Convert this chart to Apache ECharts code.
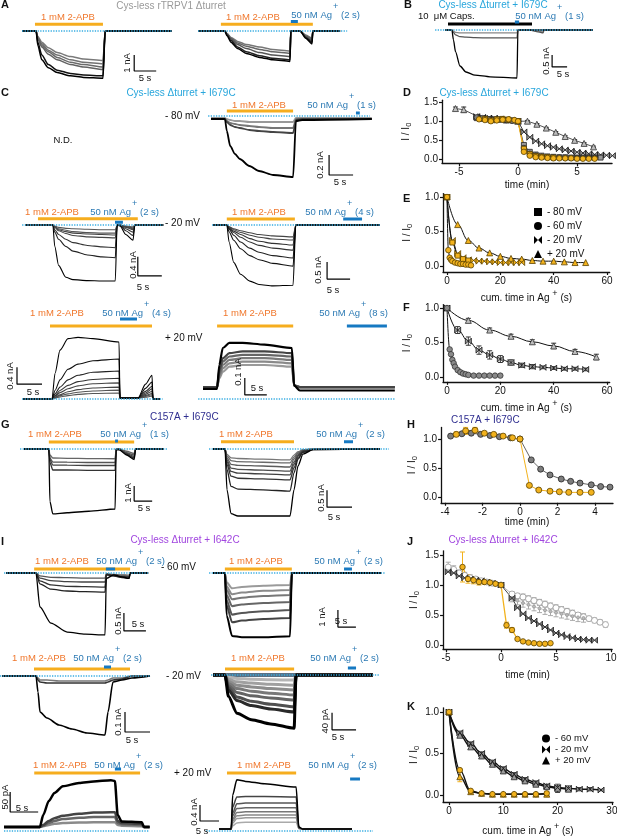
<!DOCTYPE html>
<html>
<head>
<meta charset="utf-8">
<script src="https://cdn.jsdelivr.net/npm/echarts@6/dist/echarts.min.js"></script>
<style>
  html, body { margin: 0; padding: 0; background: #fff; }
  #fig { width: 617px; height: 837px; }
</style>
</head>
<body>
<div id="fig"></div>
<script>
// ---------------- data: current traces (time in s, current in nA or pA) ----------------
var A1_t = [0, 3.2, 3.6, 4.5, 6, 8, 11, 14, 18.4, 18.9, 34];
var A1_i = [
  [0, 0, -0.35, -0.7, -1.05, -1.35, -1.6, -1.75, -1.85, 0, 0],
  [0, 0, -0.4, -0.8, -1.2, -1.5, -1.8, -1.95, -2.05, 0, 0],
  [0, 0, -0.45, -0.9, -1.3, -1.65, -1.95, -2.1, -2.25, 0, 0],
  [0, 0, -0.5, -1.0, -1.45, -1.8, -2.1, -2.25, -2.4, 0, 0],
  [0, 0, -0.7, -1.5, -2.1, -2.45, -2.65, -2.75, -2.8, 0, 0],
  [0, 0, -0.9, -1.8, -2.3, -2.6, -2.8, -2.9, -2.95, 0, 0]
];
var A2_t = [0, 6.1, 6.6, 7.5, 9, 11, 14, 17, 20.9, 21.1, 23.2, 24.5, 25.9, 26.1, 32.3];
var A2_i = [
  [0, 0, -0.15, -0.4, -0.65, -0.85, -1.0, -1.15, -1.25, 0, 0, -0.25, -0.45, 0, 0],
  [0, 0, -0.18, -0.45, -0.75, -0.95, -1.15, -1.3, -1.4, 0, 0, -0.3, -0.5, 0, 0],
  [0, 0, -0.2, -0.5, -0.85, -1.1, -1.35, -1.5, -1.6, 0, 0, -0.35, -0.6, 0, 0],
  [0, 0, -0.25, -0.6, -1.0, -1.3, -1.55, -1.7, -1.8, 0, 0, -0.4, -0.7, 0, 0],
  [0, 0, -0.3, -0.7, -1.1, -1.4, -1.65, -1.8, -1.9, 0, 0, -0.45, -0.8, 0, 0]
];
var B_t = [0, 2.3, 2.8, 3.5, 5, 7, 10, 15, 24, 24.3, 28.3, 31, 32.7, 33, 49.3];
var B_i = [
  [0, 0, -0.05, -0.1, -0.12, -0.12, -0.12, -0.12, -0.12, 0, 0, -0.05, -0.08, 0, 0],
  [0, 0, -0.1, -0.2, -0.28, -0.3, -0.32, -0.33, -0.33, 0, 0, -0.08, -0.12, 0, 0],
  [0, 0, -0.4, -0.9, -1.5, -1.75, -1.88, -1.95, -2.0, 0, 0, 0, 0, 0, 0]
];
var C1_t = [0, 2.9, 3.3, 4, 5, 6, 8, 10, 13, 17.1, 17.7, 19, 33.5];
var C1_i = [
  [-0.02, -0.02, -0.03, -0.04, -0.05, -0.05, -0.06, -0.06, -0.06, -0.06, -0.02, -0.02, -0.02],
  [-0.03, -0.03, -0.05, -0.07, -0.08, -0.09, -0.1, -0.11, -0.12, -0.12, -0.03, -0.03, -0.03],
  [-0.03, -0.03, -0.06, -0.09, -0.11, -0.12, -0.14, -0.15, -0.16, -0.17, -0.04, -0.03, -0.03],
  [-0.03, -0.03, -0.15, -0.3, -0.38, -0.43, -0.5, -0.55, -0.59, -0.61, -0.05, -0.04, -0.03]
];
var C2_t = [0, 5.8, 6.2, 7, 8.5, 10, 13, 16, 18.8, 19.2, 19.8, 21, 22.5, 22.9, 28.8];
var C2_i = [
  [0, 0, -0.02, -0.05, -0.07, -0.08, -0.09, -0.1, -0.1, 0, 0, -0.02, -0.04, 0, 0],
  [0, 0, -0.03, -0.08, -0.11, -0.14, -0.16, -0.17, -0.17, 0, 0, -0.03, -0.06, 0, 0],
  [0, 0, -0.04, -0.1, -0.14, -0.17, -0.19, -0.2, -0.21, 0, 0, -0.04, -0.08, 0, 0],
  [0, 0, -0.05, -0.12, -0.18, -0.22, -0.25, -0.26, -0.27, 0, 0, -0.05, -0.1, 0, 0],
  [0, 0, -0.1, -0.2, -0.3, -0.37, -0.43, -0.46, -0.48, 0, -0.01, -0.08, -0.15, 0, 0],
  [0, 0, -0.15, -0.3, -0.45, -0.55, -0.63, -0.67, -0.69, 0, -0.01, -0.12, -0.22, 0, 0],
  [0, 0, -0.45, -0.85, -1.1, -1.15, -1.17, -1.18, -1.18, 0, -0.02, -0.2, -0.32, 0, 0]
];
var C3_t = [0, 3, 3.5, 4.5, 6, 8, 10, 13, 17.4, 18, 36.3];
var C3_i = [
  [0, 0, -0.05, -0.11, -0.17, -0.23, -0.28, -0.32, -0.35, 0, 0],
  [0, 0, -0.06, -0.14, -0.22, -0.3, -0.36, -0.41, -0.44, 0, 0],
  [0, 0, -0.08, -0.18, -0.28, -0.4, -0.48, -0.54, -0.59, 0, 0],
  [0, 0, -0.1, -0.22, -0.36, -0.5, -0.6, -0.68, -0.74, 0, 0],
  [0, 0, -0.12, -0.3, -0.5, -0.68, -0.8, -0.9, -0.97, 0, 0],
  [0, 0, -0.2, -0.45, -0.7, -0.9, -1.02, -1.13, -1.21, 0, 0],
  [0, 0, -0.5, -1.1, -1.45, -1.65, -1.75, -1.79, -1.77, 0, 0]
];
var C4_t = [0, 5.8, 6.4, 7.4, 9, 11, 14, 19.2, 19.4, 23, 24.5, 25.8, 26, 27.4];
var C4_i = [
  [0, 0, 0.02, 0.05, 0.08, 0.11, 0.13, 0.14, 0.02, 0.02, 0.04, 0.07, 0, 0],
  [0, 0, 0.03, 0.08, 0.12, 0.16, 0.19, 0.21, 0.02, 0.02, 0.06, 0.1, 0, 0],
  [0, 0, 0.04, 0.1, 0.17, 0.22, 0.26, 0.28, 0.02, 0.02, 0.08, 0.13, 0, 0],
  [0, 0, 0.06, 0.15, 0.24, 0.31, 0.36, 0.38, 0.02, 0.02, 0.11, 0.18, 0, 0],
  [0, 0, 0.08, 0.2, 0.32, 0.41, 0.46, 0.49, 0.02, 0.02, 0.14, 0.24, 0, 0],
  [0, 0, 0.12, 0.28, 0.45, 0.56, 0.63, 0.66, 0.02, 0.02, 0.18, 0.3, 0, 0],
  [0, 0, 0.2, 0.45, 0.7, 0.82, 0.9, 0.94, 0.02, 0.02, 0.25, 0.4, 0, 0],
  [0, 0, 0.6, 1.15, 1.42, 1.45, 1.42, 1.34, 0.02, 0.02, 0.35, 0.56, 0, 0]
];
var C5_t = [0, 3.2, 3.7, 4.5, 6, 9, 14, 20.2, 20.7, 22, 43.6];
var C5_i = [
  [0.07, 0.07, 0.12, 0.16, 0.19, 0.2, 0.2, 0.19, 0.08, 0.07, 0.07],
  [0.07, 0.07, 0.13, 0.18, 0.21, 0.22, 0.22, 0.21, 0.08, 0.07, 0.07],
  [0.07, 0.07, 0.14, 0.2, 0.23, 0.24, 0.24, 0.23, 0.08, 0.07, 0.07],
  [0.07, 0.07, 0.15, 0.22, 0.25, 0.26, 0.26, 0.25, 0.08, 0.07, 0.07],
  [0.07, 0.07, 0.17, 0.24, 0.27, 0.28, 0.28, 0.27, 0.08, 0.07, 0.07],
  [0.06, 0.06, 0.2, 0.3, 0.33, 0.33, 0.32, 0.3, 0.08, 0.05, 0.05]
];
var G1_t = [0, 6.9, 7.2, 8, 12, 18, 25.3, 25.6, 26.4, 28.5, 30.6, 31, 38.9];
var G1_i = [
  [0, 0, -0.4, -0.6, -0.62, -0.64, -0.65, 0, 0, -0.15, -0.3, 0, 0],
  [0, 0, -0.6, -0.87, -0.88, -0.9, -0.9, 0, 0, -0.25, -0.4, 0, 0],
  [0, 0, -0.7, -1.07, -1.08, -1.1, -1.1, 0, 0, -0.3, -0.5, 0, 0],
  [0, 0, -0.9, -1.4, -1.4, -1.42, -1.42, 0, 0, -0.35, -0.6, 0, 0],
  [0, 0, -3.5, -4.33, -4.25, -4.15, -4.0, -0.05, -0.05, -0.4, -0.7, 0, 0]
];
var G2_t = [0, 2.4, 2.8, 3.6, 5, 10, 15.4, 16.2, 17, 18, 20, 33.4];
var G2_i = [
  [0, 0, -0.16, -0.26, -0.28, -0.3, -0.32, -0.18, -0.08, -0.02, 0, 0],
  [0, 0, -0.2, -0.34, -0.37, -0.39, -0.41, -0.24, -0.1, -0.03, 0, 0],
  [0, 0, -0.26, -0.45, -0.48, -0.5, -0.53, -0.3, -0.13, -0.04, 0, 0],
  [0, 0, -0.32, -0.56, -0.6, -0.62, -0.65, -0.38, -0.17, -0.05, -0.01, 0],
  [0, 0, -0.38, -0.66, -0.71, -0.73, -0.76, -0.45, -0.2, -0.06, -0.01, 0],
  [0, 0, -0.45, -0.8, -0.86, -0.88, -0.91, -0.55, -0.25, -0.08, -0.01, 0],
  [0, 0, -0.6, -1.1, -1.18, -1.2, -1.24, -0.7, -0.3, -0.1, -0.02, 0],
  [0, 0, -1.2, -1.9, -1.97, -1.97, -1.97, -1.2, -0.5, -0.15, -0.02, 0]
];
var I1_t = [0, 6.8, 7.7, 10.2, 13.9, 18, 22.5, 22.8, 24.5, 26, 28, 28.2, 32.3];
var I1_i = [
  [0, 0, -0.08, -0.12, -0.13, -0.14, -0.14, -0.02, -0.04, -0.05, -0.06, 0, 0],
  [0, 0, -0.14, -0.21, -0.24, -0.25, -0.25, -0.03, -0.06, -0.08, -0.1, 0, 0],
  [0, 0, -0.22, -0.33, -0.37, -0.38, -0.39, -0.04, -0.08, -0.1, -0.12, 0, 0],
  [0, 0, -0.3, -0.45, -0.5, -0.52, -0.53, -0.05, -0.08, -0.12, -0.15, 0, 0],
  [0, 0, -0.94, -1.39, -1.64, -1.7, -1.72, -0.15, -0.05, -0.1, -0.15, 0, 0]
];
var I2_t = [0, 3.3, 3.8, 5.3, 8, 14, 21.4, 21.9, 46.7];
var I2_i = [
  [0, 0, -0.55, -0.9, -0.82, -0.75, -0.7, 0, 0],
  [0, 0, -0.8, -1.25, -1.15, -1.05, -1.0, 0, 0],
  [0, 0, -1.0, -1.55, -1.45, -1.35, -1.29, 0, 0],
  [0, 0, -1.3, -1.95, -1.85, -1.77, -1.71, 0, 0],
  [0, 0, -1.6, -2.45, -2.35, -2.25, -2.18, 0, 0],
  [0, 0, -1.9, -2.9, -2.8, -2.7, -2.65, 0, 0],
  [0, 0, -2.5, -3.7, -3.78, -3.78, -3.72, 0, 0]
];
var I3_t = [0, 6.8, 7.2, 7.6, 9, 11.4, 14, 17, 20.6, 21.2, 22.2, 24, 26, 29.6];
var I3_i = [
  [0, 0, -0.01, -0.02, -0.02, -0.025, -0.025, -0.025, -0.025, -0.02, -0.01, -0.01, 0, 0],
  [0, 0, -0.02, -0.03, -0.035, -0.035, -0.035, -0.035, -0.035, -0.03, -0.02, -0.015, 0, 0],
  [0, 0, -0.08, -0.18, -0.21, -0.245, -0.265, -0.285, -0.295, -0.18, -0.03, -0.02, -0.01, 0]
];
var I4_t = [0, 2.5, 3.2, 5, 8, 12, 16.9, 17.3, 33.3];
var I4_i = [ // pA
  [0, 0, -5, -8, -10, -11, -12, 0, 0],
  [0, 0, -10, -16, -19, -22, -24, 0, 0],
  [0, 0, -15, -24, -28, -32, -35, 0, 0],
  [0, 0, -20, -32, -38, -43, -47, 0, 0],
  [0, 0, -25, -41, -49, -54, -59, 0, 0],
  [0, 0, -30, -52, -62, -69, -75, 0, 0],
  [0, 0, -35, -60, -72, -80, -87, 0, 0],
  [0, 0, -50, -90, -105, -115, -125, 0, 0]
];
var I5_t = [0, 6.4, 7, 8, 9, 10.5, 13.4, 16, 19.1, 19.8, 20.3, 21, 24.6, 25, 26];
var I5_i = [ // pA
  [10, 10, 12, 15, 18, 20, 21, 22, 22, 22, 15, 13, 12, 10, 10],
  [10, 10, 13, 20, 25, 30, 33, 35, 35, 35, 20, 17, 15, 10, 10],
  [10, 10, 15, 25, 32, 38, 43, 46, 47, 47, 25, 20, 18, 10, 10],
  [10, 10, 40, 75, 95, 112, 120, 124, 127, 125, 40, 24, 22, 10, 10]
];
var I6_t = [0, 3.2, 3.6, 4.7, 7, 12, 20.3, 21, 22, 35];
var I6_i = [
  [0.05, 0.05, 0.13, 0.2, 0.22, 0.22, 0.22, 0.06, 0.05, 0.05],
  [0.05, 0.05, 0.2, 0.31, 0.33, 0.33, 0.33, 0.06, 0.05, 0.05],
  [0.05, 0.05, 0.25, 0.38, 0.4, 0.4, 0.4, 0.07, 0.05, 0.05],
  [0.05, 0.05, 0.3, 0.46, 0.48, 0.48, 0.48, 0.07, 0.05, 0.05],
  [0.05, 0.05, 0.38, 0.56, 0.58, 0.58, 0.58, 0.08, 0.05, 0.05],
  [0.05, 0.05, 0.45, 0.68, 0.7, 0.7, 0.7, 0.08, 0.05, 0.05],
  [0.05, 0.05, 0.6, 0.85, 0.86, 0.86, 0.85, 0.1, 0.05, 0.05],
  [0.05, 0.05, 0.9, 1.28, 1.24, 1.18, 1.1, 0.1, 0.05, 0.05]
];

// ---------------- data: normalised current plots ----------------
var D_pre_x = [-3.5, -3, -2.5, -2, -1.5, -1, -0.5, 0];
var D_sq_x = D_pre_x.concat([0.5, 1, 1.5, 2, 2.5, 3, 3.5, 4, 4.5, 5, 5.5, 6, 6.5, 7]);
var D_sq_y = [1.08, 1.06, 1.05, 1.05, 1.04, 1.03, 1.02, 1.0, 0.38, 0.2, 0.13, 0.1, 0.08, 0.07, 0.06, 0.06, 0.05, 0.05, 0.05, 0.05, 0.05, 0.05];
var D_ci_x = D_pre_x.concat([0.5, 1, 1.5, 2, 2.5, 3, 3.5, 4, 4.5, 5, 5.5, 6, 6.5]);
var D_ci_y = [1.1, 1.08, 1.05, 1.03, 1.05, 1.03, 1.01, 1.0, 0.3, 0.15, 0.1, 0.07, 0.06, 0.05, 0.05, 0.04, 0.04, 0.04, 0.04, 0.04, 0.04];
var D_bw_x = D_pre_x.concat([0.5, 1, 1.5, 2, 2.5, 3, 3.5, 4, 4.5, 5, 5.5, 6, 6.5, 7, 7.5, 8]);
var D_bw_y = [1.12, 1.1, 1.08, 1.08, 1.06, 1.05, 1.03, 1.0, 0.72, 0.58, 0.48, 0.41, 0.36, 0.32, 0.28, 0.25, 0.22, 0.19, 0.17, 0.15, 0.13, 0.12, 0.11, 0.1];
var D_tr_x = [-5.3, -4.6, -3.4, -2.6, -1.8, -1, 0, 0.8, 1.6, 2.4, 3.2, 4.0, 4.8, 5.6, 6.4];
var D_tr_y = [1.33, 1.3, 1.12, 1.08, 1.06, 1.03, 1.0, 1.0, 0.92, 0.82, 0.71, 0.6, 0.5, 0.42, 0.33];
var D_tr_e = [0.04, 0.07, 0.03, 0.02, 0.02, 0.02, 0, 0.02, 0.02, 0.02, 0.02, 0.02, 0.02, 0.02, 0.02];
var D_oc_x = [-3.3, -2.8, -2.3, -1.8, -1.3, -0.8, -0.3, 0, 0.5, 1, 1.5, 2, 2.5, 3, 3.5, 4, 4.5, 5, 5.5, 6, 6.5];
var D_oc_y = [1.05, 1.03, 1.0, 1.02, 1.04, 1.05, 1.03, 1.0, 0.2, 0.1, 0.06, 0.05, 0.04, 0.03, 0.03, 0.03, 0.03, 0.02, 0.02, 0.02, 0.02];
var D_os_x = [-2.8, -2.3, -1.8, -1.3, -0.8, 0, 0.5, 1, 1.5, 2, 2.5, 3];
var D_os_y = [1.06, 1.02, 1.05, 1.06, 1.04, 1.0, 0.28, 0.14, 0.09, 0.07, 0.06, 0.05];

var E_tr_x = [0, 4, 8, 12, 16, 20, 24, 28, 32, 36, 40, 44, 48, 52];
var E_tr_y = [1.0, 0.6, 0.37, 0.26, 0.19, 0.14, 0.11, 0.1, 0.08, 0.07, 0.07, 0.06, 0.05, 0.05];
var E_bw_x = [0, 2, 4, 6, 8, 10, 12, 14, 16, 18, 20, 22, 24, 26, 28];
var E_bw_y = [1.0, 0.37, 0.18, 0.12, 0.09, 0.08, 0.07, 0.07, 0.06, 0.06, 0.05, 0.05, 0.05, 0.05, 0.05];
var E_sq_x = [0, 2, 4, 6, 8];
var E_sq_y = [1.0, 0.34, 0.15, 0.1, 0.08];
var E_ci_x = [0, 0.5, 1, 1.5, 2, 3, 4, 5, 6, 7, 8, 9];
var E_ci_y = [1.0, 0.23, 0.12, 0.09, 0.07, 0.05, 0.04, 0.03, 0.03, 0.02, 0.02, 0.01];

var F_tr_x = [0, 8, 16, 24, 32, 40, 48, 56];
var F_tr_y = [1.0, 0.82, 0.68, 0.59, 0.51, 0.45, 0.37, 0.29];
var F_tr_e = [0, 0.03, 0.03, 0.03, 0.03, 0.04, 0.03, 0.04];
var F_bw_x = [0, 4, 8, 12, 16, 20, 24, 28, 32, 36, 40, 44, 48, 52];
var F_bw_y = [1.0, 0.68, 0.52, 0.39, 0.32, 0.26, 0.21, 0.17, 0.15, 0.14, 0.13, 0.12, 0.12, 0.11];
var F_bw_e = [0, 0.05, 0.06, 0.06, 0.06, 0.05, 0.04, 0.03, 0.03, 0.02, 0.02, 0.02, 0.02, 0.02];
var F_ci_x = [0, 1, 1.5, 2, 2.5, 3, 4, 5, 6, 7, 8, 10, 12, 14, 16, 18, 20];
var F_ci_y = [1.0, 0.4, 0.33, 0.25, 0.2, 0.15, 0.1, 0.07, 0.05, 0.04, 0.03, 0.02, 0.02, 0.02, 0.02, 0.02, 0.02];

var H_gr_x = [-3.7, -3.1, -2.6, -2.1, -1.6, -1.1, -0.5, 0, 0.6, 1.1, 1.6, 2.2, 2.7, 3.2, 3.8, 4.3, 4.8];
var H_gr_y = [1.05, 1.09, 1.1, 1.08, 1.06, 1.04, 1.02, 1.0, 0.64, 0.48, 0.38, 0.31, 0.27, 0.24, 0.21, 0.18, 0.17];
var H_or_x = [-3.4, -2.9, -2.4, -1.9, -1.4, -0.9, -0.4, 0, 0.5, 1.0, 1.6, 2.1, 2.6, 3.2, 3.8];
var H_or_y = [1.08, 1.14, 1.15, 1.1, 1.08, 1.05, 1.02, 1.0, 0.2, 0.12, 0.1, 0.09, 0.08, 0.08, 0.08];
var H_or_e = [0.04, 0.06, 0.05, 0.03, 0.02, 0.02, 0.02, 0, 0.02, 0.01, 0.01, 0.01, 0.01, 0.01, 0.01];

var J_op_x = [-4.8, -4.3, -3.8, -3.3, -2.8, -2.3, -1.8, -1.3, -0.8, 0, 1, 1.5, 2, 2.5, 3, 3.5, 4, 4.5, 5, 5.5, 6, 6.5, 7, 7.5, 8, 8.5, 9, 9.5];
var J_op_y = [1.3, 1.26, 1.2, 1.16, 1.12, 1.1, 1.07, 1.05, 1.03, 1.0, 0.85, 0.82, 0.8, 0.77, 0.74, 0.71, 0.68, 0.65, 0.62, 0.59, 0.56, 0.53, 0.5, 0.47, 0.44, 0.41, 0.38, 0.34];
var J_op_e = [0.08, 0.06, 0.05, 0.05, 0.05, 0.04, 0.04, 0.03, 0.03, 0, 0.04, 0.04, 0.05, 0.05, 0.05, 0.05, 0.05, 0.05, 0.05, 0.05, 0.05, 0.05, 0.04, 0.04, 0.04, 0.04, 0.04, 0.04];
var J_lt_x = [1, 1.5, 2, 2.5, 3, 3.5, 4, 4.5, 5, 5.5, 6, 6.5, 7, 7.5];
var J_lt_y = [0.78, 0.74, 0.7, 0.67, 0.64, 0.61, 0.58, 0.56, 0.54, 0.52, 0.5, 0.48, 0.46, 0.45];
var J_lt_e = [0.06, 0.07, 0.07, 0.07, 0.07, 0.07, 0.07, 0.07, 0.07, 0.07, 0.07, 0.07, 0.07, 0.07];
var J_dk_x = [-4.8, -4.3, -3.8, -3.3, -2.8, -2.3, -1.8, -1.3, -0.8, 0, 1, 1.5, 2, 2.5, 3, 3.5, 4, 4.5, 5, 5.5, 6, 6.5, 7, 7.5, 8, 8.5];
var J_dk_y = [1.22, 1.2, 1.15, 1.12, 1.1, 1.08, 1.07, 1.05, 1.03, 1.0, 0.78, 0.62, 0.52, 0.45, 0.4, 0.35, 0.3, 0.25, 0.2, 0.17, 0.14, 0.12, 0.1, 0.09, 0.08, 0.08];
var J_or_x = [-3.5, -3.0, -2.5, -2.0, -1.5, -1.0, -0.5, 0, 0.5, 1, 1.5, 2, 2.5, 3, 3.5, 4, 4.5];
var J_or_y = [1.3, 1.1, 1.08, 1.05, 1.05, 1.04, 1.02, 1.0, 0.33, 0.25, 0.1, 0.06, 0.04, 0.03, 0.02, 0.02, 0.03];
var J_or_e = [0.25, 0.07, 0.06, 0.05, 0.04, 0.03, 0.02, 0, 0.05, 0.04, 0.02, 0.01, 0.01, 0.01, 0.01, 0.01, 0.01];

var K_bw_x = [0, 2, 4, 6, 8, 10, 12, 14, 16, 18, 20, 22, 24, 26, 28];
var K_bw_y = [1.0, 0.75, 0.62, 0.5, 0.4, 0.32, 0.25, 0.19, 0.15, 0.11, 0.09, 0.08, 0.07, 0.07, 0.06];
var K_bw_e = [0, 0.02, 0.02, 0.02, 0.02, 0.02, 0.02, 0.02, 0.02, 0.02, 0.02, 0.03, 0.02, 0.02, 0.01];
var K_tr_x = [0, 2, 4, 6, 8, 10, 12, 14, 16, 18, 20, 22];
var K_tr_y = [1.0, 0.72, 0.58, 0.47, 0.37, 0.29, 0.22, 0.17, 0.13, 0.1, 0.08, 0.07];
var K_tr_e = [0, 0.02, 0.02, 0.02, 0.02, 0.02, 0.02, 0.02, 0.02, 0.02, 0.05, 0.02];
var K_oc_x = [0, 2, 4, 6, 8, 10, 12, 14, 16, 18];
var K_oc_y = [1.0, 0.3, 0.05, 0.02, 0.01, 0.01, 0.01, 0.01, 0.01, 0.02];
var K_ot_x = [0, 2, 4, 6, 8, 10, 12, 14, 16, 18];
var K_ot_y = [1.0, 0.22, 0.04, 0.02, 0.01, 0.01, 0.01, 0.01, 0.01, 0.01];
var K_ot_e = [0, 0.06, 0.01, 0, 0, 0, 0, 0, 0, 0.03];

// ---------------- styles ----------------
var FONT = '"Liberation Sans", Arial, sans-serif';
var LAB = 9.5; // size of the solution labels
var ORANGE_TXT = '#f0772c', ORANGE_BAR = '#f6ad1e', BLUE_TXT = '#2c7ab4', BLUE_BAR = '#1679c2';
var DOT = '#39ade2', CYAN = '#28a6dc', NAVY = '#2e2d8f', PURPLE = '#a146df';
var OR_FILL = '#f2b21d', OR_EDGE = '#5c4300';
var BOWTIE = 'path://M0,0L5,5L0,10ZM10,0L5,5L10,10Z';

var grids = [], xAxes = [], yAxes = [], series = [], graphics = [];

function pairs(t, v) { return t.map(function (x, k) { return [x, v[k]]; }); }

function tracePanel(xs, pps, y0, ppu, tr, yr) {
  var gi = grids.length;
  grids.push({ left: xs + tr[0] * pps, top: y0 - yr[1] * ppu, width: (tr[1] - tr[0]) * pps,
    height: (yr[1] - yr[0]) * ppu, outerBoundsMode: 'none', containLabel: false });
  xAxes.push({ gridIndex: gi, type: 'value', min: tr[0], max: tr[1], show: false });
  yAxes.push({ gridIndex: gi, type: 'value', min: yr[0], max: yr[1], show: false });
  return gi;
}
function lineS(gi, data, color, width, type, z, smooth) {
  series.push({ type: 'line', xAxisIndex: gi, yAxisIndex: gi, data: data, symbol: 'none', silent: true,
    clip: false, z: z || 2, smooth: smooth || false, smoothMonotone: 'x',
    lineStyle: { color: color, width: width, type: type || 'solid' } });
}
function traces(gi, t, rows, colors, width) {
  rows.forEach(function (v, k) { lineS(gi, pairs(t, v), colors[k], width, 'solid', 2, 0.25); });
}
function baseline(gi, a, b) { lineS(gi, [[a, 0], [b, 0]], DOT, 1.3, 'dotted', 6); }
function bar(gi, a, b, lvl, color) { lineS(gi, [[a, lvl], [b, lvl]], color, 3, 'solid', 4); }
function scale(gi, t, yb, dt, dy) { lineS(gi, [[t, yb + dy], [t, yb], [t + dt, yb]], '#000', 1.2, 'solid', 4); }

function txt(s, x, y, o) {
  o = o || {};
  var al = o.align || 'center';
  graphics.push({ type: 'text', x: x, y: y, rotation: o.rot || 0, z: 100, silent: true,
    style: { text: s, fill: o.color || '#111', font: (o.bold ? 'bold ' : '') + (o.size || 10) + 'px ' + FONT,
      textAlign: al, align: al, textVerticalAlign: 'middle', verticalAlign: 'middle' } });
}
function apb(x, y) { txt('1 mM 2-APB', x, y, { color: ORANGE_TXT, size: LAB }); }
// "50 nM Ag+ (n s)": x is where the label starts in the figure; the superscript hangs off the end of "Ag"
function ag(x, y, dur) {
  var end = x + 43;
  txt('50 nM Ag', end, y, { align: 'right', color: BLUE_TXT, size: LAB });
  txt('+', end + 1, y - 8, { align: 'left', color: BLUE_TXT, size: 9 });
  txt('(' + dur + ')', end + 9, y, { align: 'left', color: BLUE_TXT, size: LAB });
}
function vlab(s, x, y) { txt(s, x, y, { rot: Math.PI / 2, size: 9.5 }); }

function plotPanel(c) {
  var gi = grids.length;
  var left = c.x0 + c.xr[0] * c.xu, right = c.x0 + c.xr[1] * c.xu;
  var top = c.y0 - c.yr[1] * c.yu, bottom = c.y0 - c.yr[0] * c.yu;
  grids.push({ left: left, top: top, width: right - left, height: bottom - top, outerBoundsMode: 'none', containLabel: false });
  var line = { show: true, onZero: false, lineStyle: { color: '#111', width: 1.3 } };
  xAxes.push({ gridIndex: gi, type: 'value', min: c.xr[0], max: c.xr[1], axisLine: line,
    axisTick: { show: true, length: 3, customValues: c.xt, lineStyle: { color: '#111', width: 1.2 } },
    axisLabel: { customValues: c.xt, color: '#111', fontSize: 10, fontFamily: FONT, margin: 4 },
    splitLine: { show: false }, name: c.xn, nameLocation: 'middle', nameGap: c.xg,
    nameTextStyle: { color: '#111', fontSize: 10, fontFamily: FONT,
      rich: { p: { fontSize: 9, color: '#111', padding: [0, 0, 9, 0] } } } });
  yAxes.push({ gridIndex: gi, type: 'value', min: c.yr[0], max: c.yr[1], axisLine: line,
    axisTick: { show: true, length: 3, customValues: c.yt, lineStyle: { color: '#111', width: 1.2 } },
    axisLabel: { customValues: c.yt, color: '#111', fontSize: 10, fontFamily: FONT, margin: 4,
      formatter: function (v) { return v.toFixed(1); } },
    splitLine: { show: false }, name: 'I / I{s|0}', nameLocation: 'middle', nameRotate: 90, nameGap: c.yg,
    nameTextStyle: { color: '#111', fontSize: 10, fontFamily: FONT,
      rich: { s: { fontSize: 7.5, color: '#111', padding: [6, 0, 0, 0] } } } });
  return gi;
}
function pts(gi, name, xs, ys, o) {
  series.push({ type: 'line', name: name, xAxisIndex: gi, yAxisIndex: gi, data: pairs(xs, ys),
    symbol: o.sym, symbolSize: o.size || 5.5, showSymbol: true, showAllSymbol: true, silent: true, clip: false,
    smooth: o.smooth || false, smoothMonotone: 'x', z: o.z || 3,
    lineStyle: { color: o.line, width: o.lw || 1 },
    itemStyle: { color: o.fill, borderColor: o.edge, borderWidth: 0.8 } });
}
function errs(gi, xs, ys, es, color) {
  var data = xs.map(function (x, k) { return [x, ys[k] - es[k], ys[k] + es[k]]; });
  series.push({ type: 'custom', xAxisIndex: gi, yAxisIndex: gi, data: data, silent: true, z: 2,
    renderItem: function (params, api) {
      var a = api.coord([api.value(0), api.value(1)]), b = api.coord([api.value(0), api.value(2)]);
      var st = { stroke: color, lineWidth: 1 };
      return { type: 'group', children: [
        { type: 'line', shape: { x1: a[0], y1: a[1], x2: b[0], y2: b[1] }, style: st },
        { type: 'line', shape: { x1: a[0] - 2.5, y1: a[1], x2: a[0] + 2.5, y2: a[1] }, style: st },
        { type: 'line', shape: { x1: b[0] - 2.5, y1: b[1], x2: b[0] + 2.5, y2: b[1] }, style: st } ] };
    } });
}

// ---------------- A ----------------
var g = tracePanel(22, 4.4, 31, 16, [-1, 35], [-3.2, 0.8]);
traces(g, A1_t, A1_i, ['#7a7a7a', '#727272', '#6a6a6a', '#626262', '#111', '#000'], 1.5);
baseline(g, 0, 34); bar(g, 2.95, 18.4, 0.42, ORANGE_BAR); scale(g, 25.5, -2.5, 5, 1);
g = tracePanel(198, 4.4, 31, 16, [-1, 35], [-2.2, 0.8]);
traces(g, A2_t, A2_i, ['#777', '#666', '#555', '#222', '#000'], 1.5);
baseline(g, 0, 33.9); bar(g, 5.2, 26.1, 0.42, ORANGE_BAR); bar(g, 21.1, 22.7, 0.6, BLUE_BAR);
txt('A', 1, 5, { align: 'left', bold: true, size: 11 });
txt('Cys-less rTRPV1 \u0394turret', 171, 6, { color: '#9a9a9a' });
apb(68, 17); apb(253, 17); ag(289, 15, '2 s');
vlab('1 nA', 127, 63); txt('5 s', 145, 78, { size: 9.5 });

// ---------------- B ----------------
g = tracePanel(445, 3, 30, 24, [-4, 50], [-2.2, 0.5]);
traces(g, B_t, B_i, ['#888', '#555', '#000'], 1.3);
baseline(g, -3.3, 49.3); bar(g, 1, 29, 0.25, '#000'); bar(g, 23.3, 24.7, 0.33, BLUE_BAR);
scale(g, 35.7, -1.54, 5, 0.5);
txt('B', 404, 5, { align: 'left', bold: true, size: 11 });
txt('Cys-less \u0394turret + I679C', 493, 5, { color: CYAN });
txt('10  \u03bcM Caps.', 418, 16, { align: 'left', size: LAB });
ag(513, 16, '1 s');
vlab('0.5 nA', 546, 61); txt('5 s', 563, 74, { size: 9.5 });

// ---------------- C ----------------
g = tracePanel(211, 4.8, 116, 100, [-1, 35], [-0.7, 0.15]);
traces(g, C1_t, C1_i, ['#999', '#777', '#444', '#000'], 1.8);
baseline(g, -0.6, 33.1); bar(g, 3.3, 17.1, 0.05, ORANGE_BAR); bar(g, 30.2, 31, 0.03, BLUE_BAR);
scale(g, 24.6, -0.59, 5, 0.2);
g = tracePanel(25, 4.8, 225, 47.5, [-1, 30], [-1.3, 0.2]);
traces(g, C2_t, C2_i, ['#555', '#555', '#444', '#444', '#333', '#222', '#000'], 1.1);
baseline(g, -0.6, 28.75); bar(g, 2.7, 23.5, 0.13, ORANGE_BAR); bar(g, 18.75, 20.4, 0.06, BLUE_BAR);
scale(g, 23.5, -1.07, 5, 0.4);
g = tracePanel(213, 4.6, 225, 34, [-1, 38], [-1.9, 0.2]);
traces(g, C3_t, C3_i, ['#444', '#444', '#333', '#333', '#222', '#111', '#000'], 1.1);
baseline(g, -0.2, 36.3); bar(g, 3, 17.8, 0.18, ORANGE_BAR); bar(g, 28.3, 32.4, 0.18, BLUE_BAR);
scale(g, 24.8, -1.59, 5, 0.5);
g = tracePanel(23, 5, 399, 42.5, [-1.5, 29], [-0.1, 1.95]);
traces(g, C4_t, C4_i, ['#555', '#555', '#444', '#444', '#333', '#222', '#111', '#000'], 1.1);
baseline(g, -0.2, 28); bar(g, 5.4, 25.8, 1.72, ORANGE_BAR); bar(g, 19.4, 22.8, 1.88, BLUE_BAR);
scale(g, -1.2, 0.35, 5, 0.4);
g = tracePanel(203, 4.4, 399, 170, [-1.5, 45], [-0.02, 0.45]);
traces(g, C5_t, C5_i, ['#9a9a9a', '#8a8a8a', '#7a7a7a', '#666', '#444', '#000'], 2.2);
baseline(g, -1.1, 43.6); bar(g, 3.2, 20.5, 0.43, ORANGE_BAR); bar(g, 32.7, 41.8, 0.43, BLUE_BAR);
scale(g, 9.5, 0.024, 5, 0.1);
txt('C', 1, 93, { align: 'left', bold: true, size: 11 });
txt('Cys-less \u0394turret + I679C', 181, 93, { color: CYAN });
apb(259, 105); ag(305, 105, '1 s');
txt('- 80 mV', 200, 116, { align: 'right' });
txt('N.D.', 63, 140, { size: 9.5 });
vlab('0.2 nA', 320, 165); txt('5 s', 340, 182, { size: 9.5 });
apb(52, 212); ag(88, 212, '2 s'); apb(259, 212); ag(303, 212, '4 s');
txt('- 20 mV', 165, 223, { align: 'left' });
vlab('0.4 nA', 133, 265); txt('5 s', 143, 287, { size: 9.5 });
vlab('0.5 nA', 318, 270); txt('5 s', 333, 290, { size: 9.5 });
apb(57, 313); ag(100, 313, '4 s'); apb(250, 313); ag(317, 313, '8 s');
txt('+ 20 mV', 165, 338, { align: 'left' });
vlab('0.4 nA', 10, 376); txt('5 s', 33, 392, { size: 9.5 });
vlab('0.1 nA', 238, 372); txt('5 s', 257, 388, { size: 9.5 });

// ---------------- G ----------------
g = tracePanel(24, 3.6, 449, 15, [-2, 40], [-4.5, 0.6]);
traces(g, G1_t, G1_i, ['#666', '#555', '#444', '#333', '#000'], 1.3);
baseline(g, -1.1, 40); bar(g, 6.9, 30.6, 0.47, ORANGE_BAR); bar(g, 25.3, 26.1, 0.53, BLUE_BAR);
scale(g, 30.6, -3.47, 5, 1);
g = tracePanel(213, 5, 449, 34, [-1, 36], [-2.1, 0.3]);
traces(g, G2_t, G2_i, ['#777', '#6a6a6a', '#5c5c5c', '#4e4e4e', '#404040', '#333', '#222', '#000'], 1.3);
baseline(g, -0.8, 35.2); bar(g, 1.6, 16.2, 0.21, ORANGE_BAR); bar(g, 26.2, 28, 0.21, BLUE_BAR);
scale(g, 22.8, -1.71, 5, 0.5);
txt('G', 1, 425, { align: 'left', bold: true, size: 11 });
txt('C157A + I679C', 150, 417, { align: 'left', color: NAVY });
apb(55, 434); ag(98, 434, '1 s'); apb(246, 434); ag(314, 434, '2 s');
vlab('1 nA', 128, 493); txt('5 s', 144, 508, { size: 9.5 });
vlab('0.5 nA', 321, 498); txt('5 s', 334, 517, { size: 9.5 });

// ---------------- I ----------------
g = tracePanel(6, 4.4, 573, 36, [-2, 33.5], [-1.8, 0.2]);
traces(g, I1_t, I1_i, ['#555', '#444', '#333', '#222', '#000'], 1.3);
baseline(g, -0.45, 32.3); bar(g, 6.4, 28.2, 0.11, ORANGE_BAR); bar(g, 22.7, 24.8, 0.11, BLUE_BAR);
scale(g, 26.8, -1.61, 5, 0.5);
g = tracePanel(213, 3.6, 573, 17, [-2, 48], [-3.9, 0.4]);
traces(g, I2_t, I2_i, ['#9a9a9a', '#8a8a8a', '#777', '#666', '#555', '#444', '#000'], 2);
baseline(g, -1.1, 47.8); bar(g, 3.3, 21.9, 0.24, ORANGE_BAR); bar(g, 36.4, 38.6, 0.24, BLUE_BAR);
scale(g, 34.7, -3.18, 5, 1);
g = tracePanel(2, 5, 676, 200, [-1, 30], [-0.31, 0.05]);
traces(g, I3_t, I3_i, ['#777', '#333', '#000'], 1.6);
baseline(g, -0.4, 29.6); bar(g, 6.4, 25.6, 0.035, ORANGE_BAR); bar(g, 20.4, 21.8, 0.045, BLUE_BAR);
scale(g, 24.6, -0.28, 5, 0.1);
g = tracePanel(213, 4.8, 675, 0.425, [-1, 35], [-135, 20]);
lineS(g, [[0, 0], [33.3, 0]], '#5a7083', 4, 'solid', 1);
traces(g, I4_t, I4_i, ['#b5b5b5', '#a0a0a0', '#8c8c8c', '#787878', '#646464', '#505050', '#2a2a2a', '#000'], 3);
baseline(g, -0.4, 34.6); bar(g, 2.5, 16.9, 14, ORANGE_BAR); bar(g, 28.1, 29.8, 16.5, BLUE_BAR);
scale(g, 24.8, -129, 5, 40);
g = tracePanel(4, 5.6, 831, 0.4, [-1, 27], [-5, 160]);
traces(g, I5_t, I5_i, ['#8a8a8a', '#666', '#444', '#000'], 2.5);
baseline(g, 0, 26); bar(g, 5.4, 24.3, 145, ORANGE_BAR); bar(g, 19.8, 20.9, 155, BLUE_BAR);
scale(g, 1.1, 47.5, 5, 50);
g = tracePanel(219, 3.8, 831, 40, [-6, 40], [-0.05, 1.5]);
traces(g, I6_t, I6_i, ['#aaa', '#999', '#888', '#777', '#666', '#555', '#444', '#000'], 1.5);
baseline(g, -3.4, 42.1); bar(g, 2.1, 20.3, 1.45, ORANGE_BAR); bar(g, 34.5, 37.1, 1.3, BLUE_BAR);
scale(g, -5, 0.25, 5, 0.4);
txt('I', 1, 542, { align: 'left', bold: true, size: 11 });
txt('Cys-less \u0394turret + I642C', 185, 540, { color: PURPLE });
apb(62, 561); ag(94, 561, '2 s'); apb(256, 561); ag(312, 561, '2 s');
txt('- 60 mV', 161, 567, { align: 'left' });
vlab('0.5 nA', 118, 621); txt('5 s', 138, 624, { size: 9.5 });
vlab('1 nA', 322, 617); txt('5 s', 341, 621, { size: 9.5 });
apb(39, 658); ag(71, 658, '2 s'); apb(258, 658); ag(308, 658, '2 s');
txt('- 20 mV', 166, 676, { align: 'left' });
vlab('0.1 nA', 118, 722); txt('5 s', 132, 740, { size: 9.5 });
vlab('40 pA', 325, 721); txt('5 s', 338, 737, { size: 9.5 });
apb(60, 765); ag(92, 765, '2 s'); apb(264, 765); ag(306, 765, '2 s');
txt('+ 20 mV', 174, 773, { align: 'left' });
vlab('50 pA', 5, 797); txt('5 s', 22, 808, { size: 9.5 });
vlab('0.4 nA', 194, 812); txt('5 s', 202, 831, { size: 9.5 });

// ---------------- D ----------------
var TIME = 'time (min)', CUM = 'cum. time in Ag {p|+} (s)';
g = plotPanel({ x0: 518, xu: 11.8, xr: [-6.44, 7.97], y0: 159.5, yu: 38.3, yr: [-0.1, 1.55],
  xt: [-5, 0, 5], yt: [0, 0.5, 1, 1.5], xn: TIME, xg: 17, yg: 29 });
errs(g, D_tr_x, D_tr_y, D_tr_e, '#333');
pts(g, '+20', D_tr_x, D_tr_y, { sym: 'triangle', size: 6, fill: '#bdbdbd', edge: '#333', line: '#555' });
pts(g, '-20', D_bw_x, D_bw_y, { sym: BOWTIE, size: 6, fill: '#999', edge: '#111', line: '#333' });
pts(g, '-80', D_sq_x, D_sq_y, { sym: 'rect', size: 5, fill: '#9a9a9a', edge: '#222', line: '#555' });
pts(g, '-60', D_ci_x, D_ci_y, { sym: 'circle', size: 5.5, fill: '#7d7d7d', edge: '#222', line: '#555' });
pts(g, '-80o', D_os_x, D_os_y, { sym: 'rect', size: 5, fill: OR_FILL, edge: OR_EDGE, line: OR_FILL });
pts(g, '-60o', D_oc_x, D_oc_y, { sym: 'circle', size: 5.5, fill: OR_FILL, edge: OR_EDGE, line: OR_FILL });
txt('D', 403, 93, { align: 'left', bold: true, size: 11 });
txt('Cys-less \u0394turret + I679C', 494, 93, { color: CYAN });

// ---------------- E ----------------
g = plotPanel({ x0: 447, xu: 2.667, xr: [-1.5, 61], y0: 266, yu: 69, yr: [-0.087, 1.05],
  xt: [0, 20, 40, 60], yt: [0, 0.5, 1], xn: CUM, xg: 17, yg: 29 });
pts(g, '+ 20 mV', E_tr_x, E_tr_y, { sym: 'triangle', size: 6, fill: OR_FILL, edge: OR_EDGE, line: '#111', smooth: 0.4 });
pts(g, '- 20 mV', E_bw_x, E_bw_y, { sym: BOWTIE, size: 6, fill: OR_FILL, edge: OR_EDGE, line: '#111', smooth: 0.4 });
pts(g, '- 80 mV', E_sq_x, E_sq_y, { sym: 'rect', size: 5, fill: OR_FILL, edge: OR_EDGE, line: '#111', smooth: 0.4 });
pts(g, '- 60 mV', E_ci_x, E_ci_y, { sym: 'circle', size: 5.5, fill: OR_FILL, edge: OR_EDGE, line: '#111', smooth: 0.4 });
txt('E', 403, 199, { align: 'left', bold: true, size: 11 });

// ---------------- F ----------------
g = plotPanel({ x0: 447, xu: 2.667, xr: [-1.5, 61], y0: 377, yu: 69, yr: [-0.07, 1.05],
  xt: [0, 20, 40, 60], yt: [0, 0.5, 1], xn: CUM, xg: 17, yg: 29 });
errs(g, F_tr_x, F_tr_y, F_tr_e, '#333');
errs(g, F_bw_x, F_bw_y, F_bw_e, '#333');
pts(g, 'f+20', F_tr_x, F_tr_y, { sym: 'triangle', size: 6, fill: '#bdbdbd', edge: '#333', line: '#111', smooth: 0.4 });
pts(g, 'f-20', F_bw_x, F_bw_y, { sym: BOWTIE, size: 6, fill: '#999', edge: '#111', line: '#111', smooth: 0.4 });
pts(g, 'f-60', F_ci_x, F_ci_y, { sym: 'circle', size: 5.5, fill: '#8a8a8a', edge: '#333', line: '#111', smooth: 0.4 });
txt('F', 403, 308, { align: 'left', bold: true, size: 11 });

// ---------------- H ----------------
g = plotPanel({ x0: 520, xu: 18.75, xr: [-4.21, 4.96], y0: 497, yu: 58, yr: [-0.1, 1.2],
  xt: [-4, -2, 0, 2, 4], yt: [0, 0.5, 1], xn: TIME, xg: 13, yg: 17 });
errs(g, H_or_x, H_or_y, H_or_e, OR_FILL);
pts(g, 'hg', H_gr_x, H_gr_y, { sym: 'circle', size: 6, fill: '#7d7d7d', edge: '#222', line: '#666' });
pts(g, 'ho', H_or_x, H_or_y, { sym: 'circle', size: 6, fill: OR_FILL, edge: OR_EDGE, line: OR_FILL });
txt('H', 407, 425, { align: 'left', bold: true, size: 11 });
txt('C157A + I679C', 451, 420, { align: 'left', color: NAVY });

// ---------------- J ----------------
g = plotPanel({ x0: 501, xu: 11, xr: [-5.27, 10.1], y0: 645, yu: 60, yr: [-0.07, 1.57],
  xt: [-5, 0, 5, 10], yt: [0, 0.5, 1, 1.5], xn: TIME, xg: 21, yg: 17 });
errs(g, J_op_x, J_op_y, J_op_e, '#aaa');
errs(g, J_lt_x, J_lt_y, J_lt_e, '#aaa');
errs(g, J_or_x, J_or_y, J_or_e, OR_FILL);
pts(g, 'jo', J_op_x, J_op_y, { sym: 'circle', size: 6, fill: '#fff', edge: '#9a9a9a', line: '#bbb' });
pts(g, 'jl', J_lt_x, J_lt_y, { sym: 'circle', size: 3, fill: '#bbb', edge: '#999', line: '#ccc' });
pts(g, 'jd', J_dk_x, J_dk_y, { sym: BOWTIE, size: 6, fill: '#777', edge: '#222', line: '#444' });
pts(g, 'jor', J_or_x, J_or_y, { sym: 'circle', size: 5.5, fill: OR_FILL, edge: OR_EDGE, line: OR_FILL, lw: 1.3 });
txt('J', 407, 542, { align: 'left', bold: true, size: 11 });
txt('Cys-less \u0394turret + I642C', 503, 540, { color: PURPLE });

// ---------------- K ----------------
g = plotPanel({ x0: 449, xu: 5.43, xr: [-1.1, 30.2], y0: 795, yu: 83, yr: [-0.085, 1.05],
  xt: [0, 10, 20, 30], yt: [0, 0.5, 1], xn: CUM, xg: 20, yg: 17 });
errs(g, K_bw_x, K_bw_y, K_bw_e, '#444');
errs(g, K_tr_x, K_tr_y, K_tr_e, '#444');
errs(g, K_ot_x, K_ot_y, K_ot_e, OR_FILL);
pts(g, '+ 20 mV', K_tr_x, K_tr_y, { sym: 'triangle', size: 6, fill: '#9a9a9a', edge: '#222', line: '#111', lw: 1.4, smooth: 0.4 });
pts(g, '- 20 mV', K_bw_x, K_bw_y, { sym: BOWTIE, size: 6, fill: '#8a8a8a', edge: '#111', line: '#111', lw: 1.4, smooth: 0.4 });
pts(g, 'ko', K_ot_x, K_ot_y, { sym: 'triangle', size: 6, fill: OR_FILL, edge: OR_EDGE, line: '#111', lw: 1.4, smooth: 0.4 });
pts(g, '- 60 mV', K_oc_x, K_oc_y, { sym: 'circle', size: 5.5, fill: OR_FILL, edge: OR_EDGE, line: '#111', lw: 1.4, smooth: 0.4 });
txt('K', 407, 707, { align: 'left', bold: true, size: 11 });

function legendItem(name, icon) { return { name: name, icon: icon, itemStyle: { color: '#000', borderWidth: 0 } }; }
var legends = [
  { left: 529, top: 201, orient: 'vertical', selectedMode: false, itemWidth: 8, itemHeight: 8, itemGap: 2,
    textStyle: { fontSize: 10, color: '#111', fontFamily: FONT, lineHeight: 12 },
    data: [legendItem('- 80 mV', 'rect'), legendItem('- 60 mV', 'circle'), legendItem('- 20 mV', BOWTIE), legendItem('+ 20 mV', 'triangle')] },
  { left: 537, top: 728, orient: 'vertical', selectedMode: false, itemWidth: 8, itemHeight: 8, itemGap: 0,
    textStyle: { fontSize: 9.5, color: '#111', fontFamily: FONT, lineHeight: 11 },
    data: [legendItem('- 60 mV', 'circle'), legendItem('- 20 mV', BOWTIE), legendItem('+ 20 mV', 'triangle')] }
];

var chart = echarts.init(document.getElementById('fig'));
chart.setOption({
  animation: false,
  backgroundColor: '#fff',
  textStyle: { fontFamily: FONT },
  grid: grids,
  xAxis: xAxes,
  yAxis: yAxes,
  legend: legends,
  series: series,
  graphic: graphics
});
</script>
</body>
</html>
